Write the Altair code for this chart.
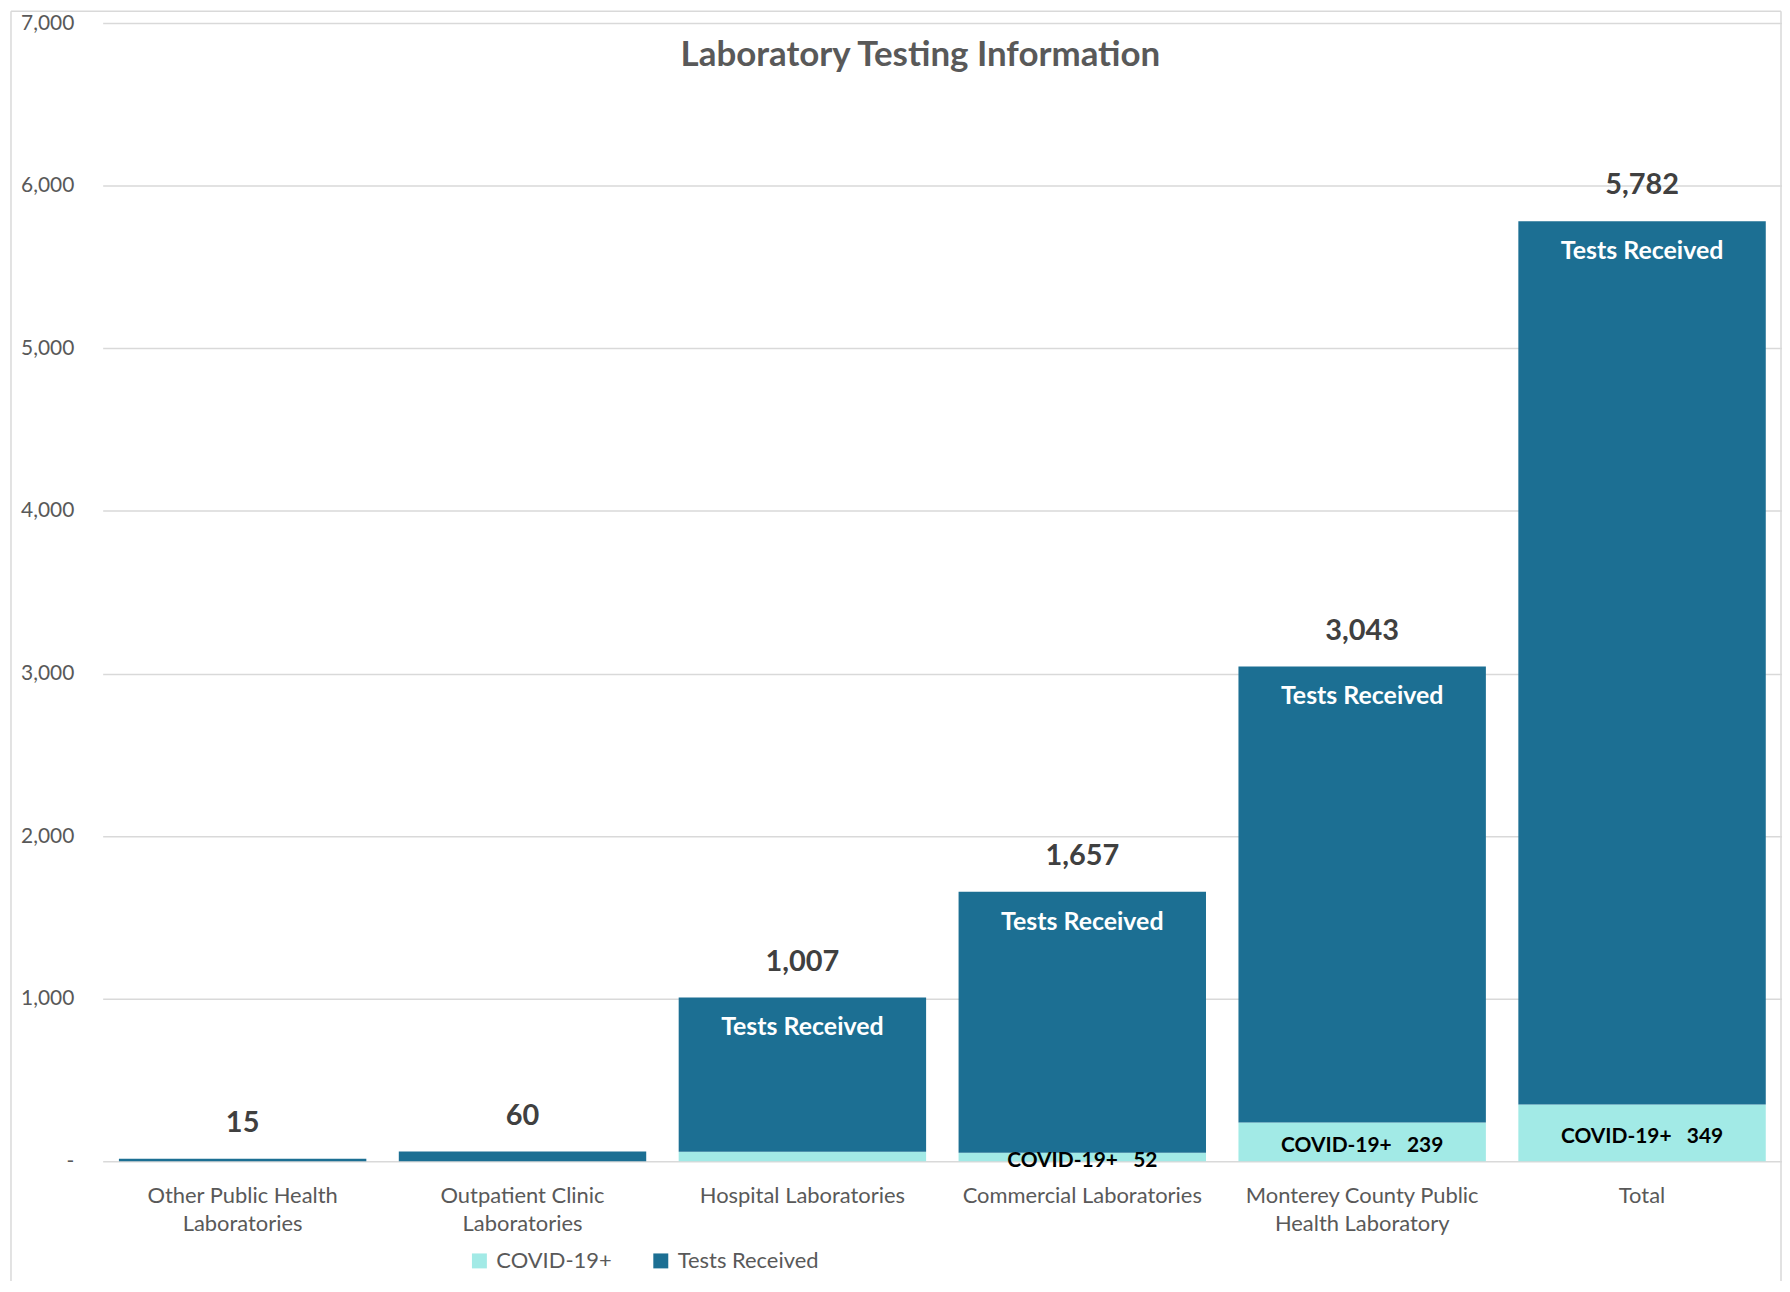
import altair as alt
import pandas as pd

# ---------------- data ----------------
categories = [
    "Other Public Health Laboratories",
    "Outpatient Clinic Laboratories",
    "Hospital Laboratories",
    "Commercial Laboratories",
    "Monterey County Public Health Laboratory",
    "Total",
]
label_lines = [
    ["Other Public Health", "Laboratories"],
    ["Outpatient Clinic", "Laboratories"],
    ["Hospital Laboratories"],
    ["Commercial Laboratories"],
    ["Monterey County Public", "Health Laboratory"],
    ["Total"],
]
tests_received = [15, 60, 1007, 1657, 3043, 5782]
covid_positive = [0, 0, 58, 52, 239, 349]
show_covid_label = [False, False, False, True, True, True]
show_tests_label = [False, False, True, True, True, True]
series = ["COVID-19+", "Tests Received"]
series_colors = ["#A2EAE6", "#1C6F93"]
y_ticks = [0, 1000, 2000, 3000, 4000, 5000, 6000, 7000]

# ---------------- tables ----------------
seg_rows = []
for c, t, v in zip(categories, tests_received, covid_positive):
    seg_rows.append({"category": c, "series": "COVID-19+", "start": 0, "end": v})
    seg_rows.append({"category": c, "series": "Tests Received", "start": v, "end": t})
seg = pd.DataFrame(seg_rows)

info = pd.DataFrame({
    "category": categories,
    "total": tests_received,
    "covid": covid_positive,
    "show_covid": show_covid_label,
    "show_tests": show_tests_label,
    "covid_text": ["COVID-19+" + "\u00a0" * 3 + str(v) for v in covid_positive],
})

FONT = "Lato"
W, H = 1685, 1142

# x label expression (two-line labels)
expr = "datum.label"
for cat, lines in reversed(list(zip(categories, label_lines))):
    arr = "[" + ",".join("'" + s + "'" for s in lines) + "]"
    expr = f"datum.label == '{cat}' ? {arr} : ({expr})"

x_axis = alt.Axis(
    title=None, labelAngle=0, domain=False, ticks=False, labelFont=FONT,
    labelFontSize=22, labelColor="#595959", labelPadding=24,
    labelLineHeight=28, labelBaseline="top", labelExpr=expr, labelLimit=400,
)
y_axis = alt.Axis(
    title=None, values=y_ticks, domain=False, ticks=False, grid=True,
    gridColor="#D9D9D9", gridWidth=1.5, labelFont=FONT, labelFontSize=21,
    labelColor="#595959", labelPadding=29,
    labelExpr="datum.value == 0 ? '-\u00a0\u00a0\u00a0' : format(datum.value, ',')",
)
x_enc = alt.X("category:N", sort=categories, axis=x_axis,
              scale=alt.Scale(paddingInner=0.116, paddingOuter=0.058))
y_scale = alt.Scale(domain=[0, 7000], nice=False)

bars = alt.Chart(seg).mark_bar().encode(
    x=x_enc,
    y=alt.Y("start:Q", scale=y_scale, axis=y_axis),
    y2="end:Q",
    color=alt.Color(
        "series:N",
        scale=alt.Scale(domain=series, range=series_colors),
        legend=alt.Legend(
            orient="none", legendX=367, legendY=1231, direction="horizontal",
            title=None, symbolType="square", symbolSize=225,
            symbolStrokeWidth=0, symbolOpacity=1, labelFont=FONT,
            labelFontSize=22, labelColor="#595959", labelOffset=6,
            columnPadding=38,
        ),
    ),
)

base = alt.Chart(info)

totals = base.mark_text(
    font=FONT, fontSize=29, fontWeight="bold", color="#404040",
    baseline="alphabetic", dy=-27,
).encode(
    x=x_enc,
    y=alt.Y("total:Q", scale=y_scale, axis=y_axis),
    text=alt.Text("total:Q", format=","),
)

tests_lbl = base.transform_filter("datum.show_tests").mark_text(
    font=FONT, fontSize=25, fontWeight="bold", color="white",
    baseline="alphabetic", dy=38,
).encode(
    x=x_enc,
    y=alt.Y("total:Q", scale=y_scale, axis=y_axis),
    text=alt.value("Tests Received"),
)

covid_lbl = base.transform_filter("datum.show_covid").transform_calculate(
    mid="datum.covid / 2"
).mark_text(
    font=FONT, fontSize=21, fontWeight="bold", color="black",
    baseline="middle", dy=4,
).encode(
    x=x_enc,
    y=alt.Y("mid:Q", scale=y_scale, axis=y_axis),
    text="covid_text:N",
)

frame_df = pd.DataFrame({"k": [0]})
frame_style = dict(color="#D9D9D9", strokeWidth=1.5)
frame_left = alt.Chart(frame_df).mark_rule(**frame_style).encode(
    x=alt.value(-92), y=alt.value(-12), y2=alt.value(H + 130)
)
frame_right = alt.Chart(frame_df).mark_rule(**frame_style).encode(
    x=alt.value(W - 1), y=alt.value(-12), y2=alt.value(H + 130)
)
frame_top = alt.Chart(frame_df).mark_rule(**frame_style).encode(
    x=alt.value(-92), x2=alt.value(W - 1), y=alt.value(-12)
)

chart = alt.layer(
    bars, totals, tests_lbl, covid_lbl, frame_left, frame_right, frame_top
).properties(
    width=W,
    height=H,
    padding={"left": 95, "top": 13, "right": 0, "bottom": 118},
    autosize=alt.AutoSizeParams(type="none"),
    title=alt.TitleParams(
        "Laboratory Testing Information", font=FONT, fontSize=35,
        fontWeight="bold", color="#595959", anchor="middle", frame="group",
        offset=0, dx=-22, dy=91, baseline="alphabetic",
    ),
).configure_view(stroke=None)

chart.save("out.html", embed_options={"renderer": "svg", "actions": False})
